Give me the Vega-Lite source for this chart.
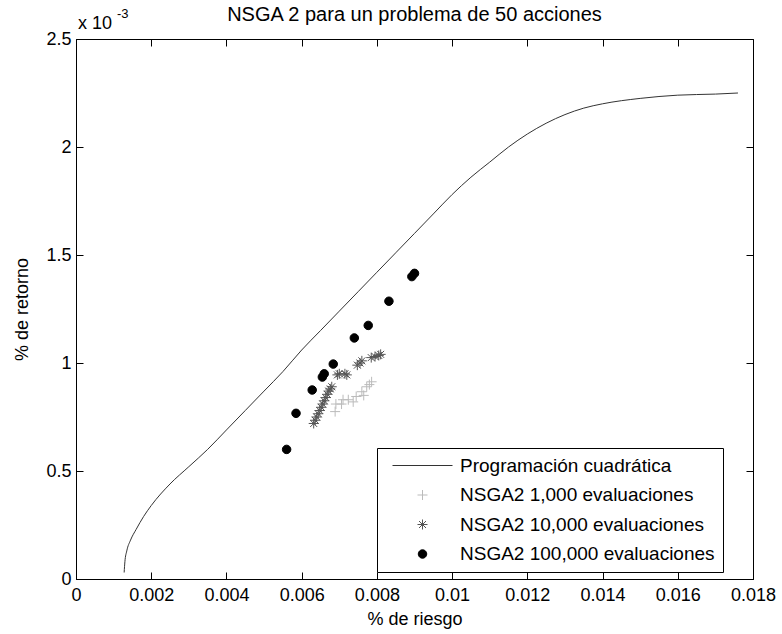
{
  "$schema": "https://vega.github.io/schema/vega-lite/v6.json",
  "width": 677,
  "height": 540,
  "autosize": {"type": "none"},
  "padding": {"left": 76, "top": 39, "right": 29, "bottom": 55},
  "background": "white",
  "config": {
    "view": {"stroke": "black", "strokeWidth": 1},
    "axis": {"grid": false, "domainColor": "black", "tickColor": "black", "labelColor": "black", "titleColor": "black", "labelFont": "Liberation Sans", "titleFont": "Liberation Sans", "labelFontSize": 18, "titleFontSize": 18, "titleFontWeight": "normal", "tickSize": -7, "labelFlush": false, "labelOverlap": false}
  },
  "datasets": {
    "qp": [
      {"x": 0.00128, "y": 0.03},
      {"x": 0.0013, "y": 0.08},
      {"x": 0.00135, "y": 0.13},
      {"x": 0.00145, "y": 0.18},
      {"x": 0.0016, "y": 0.23},
      {"x": 0.0018, "y": 0.29},
      {"x": 0.002, "y": 0.34},
      {"x": 0.0025, "y": 0.44},
      {"x": 0.003, "y": 0.52},
      {"x": 0.0035, "y": 0.6},
      {"x": 0.004, "y": 0.69},
      {"x": 0.0045, "y": 0.78},
      {"x": 0.005, "y": 0.87},
      {"x": 0.0055, "y": 0.96},
      {"x": 0.006, "y": 1.06},
      {"x": 0.0065, "y": 1.15},
      {"x": 0.007, "y": 1.24},
      {"x": 0.0075, "y": 1.33},
      {"x": 0.008, "y": 1.42},
      {"x": 0.0085, "y": 1.51},
      {"x": 0.009, "y": 1.6},
      {"x": 0.0095, "y": 1.69},
      {"x": 0.01, "y": 1.78},
      {"x": 0.0105, "y": 1.86},
      {"x": 0.011, "y": 1.93},
      {"x": 0.0115, "y": 2.0},
      {"x": 0.012, "y": 2.06},
      {"x": 0.0125, "y": 2.11},
      {"x": 0.013, "y": 2.15},
      {"x": 0.0135, "y": 2.18},
      {"x": 0.014, "y": 2.2},
      {"x": 0.015, "y": 2.225},
      {"x": 0.016, "y": 2.24},
      {"x": 0.017, "y": 2.245},
      {"x": 0.0176, "y": 2.25}
    ],
    "pts": [
      {"x": 0.00689, "y": 0.775, "s": "NSGA2 1,000 evaluaciones"},
      {"x": 0.00691, "y": 0.81, "s": "NSGA2 1,000 evaluaciones"},
      {"x": 0.00706, "y": 0.81, "s": "NSGA2 1,000 evaluaciones"},
      {"x": 0.0071, "y": 0.83, "s": "NSGA2 1,000 evaluaciones"},
      {"x": 0.00724, "y": 0.83, "s": "NSGA2 1,000 evaluaciones"},
      {"x": 0.00737, "y": 0.82, "s": "NSGA2 1,000 evaluaciones"},
      {"x": 0.00745, "y": 0.845, "s": "NSGA2 1,000 evaluaciones"},
      {"x": 0.0076, "y": 0.867, "s": "NSGA2 1,000 evaluaciones"},
      {"x": 0.00765, "y": 0.85, "s": "NSGA2 1,000 evaluaciones"},
      {"x": 0.00773, "y": 0.89, "s": "NSGA2 1,000 evaluaciones"},
      {"x": 0.0078, "y": 0.9, "s": "NSGA2 1,000 evaluaciones"},
      {"x": 0.00786, "y": 0.913, "s": "NSGA2 1,000 evaluaciones"},
      {"x": 0.00632, "y": 0.72, "s": "NSGA2 10,000 evaluaciones"},
      {"x": 0.00636, "y": 0.735, "s": "NSGA2 10,000 evaluaciones"},
      {"x": 0.0064, "y": 0.75, "s": "NSGA2 10,000 evaluaciones"},
      {"x": 0.00644, "y": 0.765, "s": "NSGA2 10,000 evaluaciones"},
      {"x": 0.00648, "y": 0.78, "s": "NSGA2 10,000 evaluaciones"},
      {"x": 0.00652, "y": 0.795, "s": "NSGA2 10,000 evaluaciones"},
      {"x": 0.00656, "y": 0.81, "s": "NSGA2 10,000 evaluaciones"},
      {"x": 0.0066, "y": 0.825, "s": "NSGA2 10,000 evaluaciones"},
      {"x": 0.00664, "y": 0.84, "s": "NSGA2 10,000 evaluaciones"},
      {"x": 0.00668, "y": 0.855, "s": "NSGA2 10,000 evaluaciones"},
      {"x": 0.00672, "y": 0.87, "s": "NSGA2 10,000 evaluaciones"},
      {"x": 0.00676, "y": 0.88, "s": "NSGA2 10,000 evaluaciones"},
      {"x": 0.0068, "y": 0.89, "s": "NSGA2 10,000 evaluaciones"},
      {"x": 0.00695, "y": 0.945, "s": "NSGA2 10,000 evaluaciones"},
      {"x": 0.007, "y": 0.95, "s": "NSGA2 10,000 evaluaciones"},
      {"x": 0.00715, "y": 0.95, "s": "NSGA2 10,000 evaluaciones"},
      {"x": 0.0072, "y": 0.945, "s": "NSGA2 10,000 evaluaciones"},
      {"x": 0.00748, "y": 0.99, "s": "NSGA2 10,000 evaluaciones"},
      {"x": 0.00755, "y": 1.0, "s": "NSGA2 10,000 evaluaciones"},
      {"x": 0.0076, "y": 1.01, "s": "NSGA2 10,000 evaluaciones"},
      {"x": 0.00785, "y": 1.025, "s": "NSGA2 10,000 evaluaciones"},
      {"x": 0.00795, "y": 1.03, "s": "NSGA2 10,000 evaluaciones"},
      {"x": 0.00805, "y": 1.035, "s": "NSGA2 10,000 evaluaciones"},
      {"x": 0.0081, "y": 1.04, "s": "NSGA2 10,000 evaluaciones"},
      {"x": 0.0056, "y": 0.6, "s": "NSGA2 100,000 evaluaciones"},
      {"x": 0.00585, "y": 0.767, "s": "NSGA2 100,000 evaluaciones"},
      {"x": 0.00628, "y": 0.875, "s": "NSGA2 100,000 evaluaciones"},
      {"x": 0.00655, "y": 0.935, "s": "NSGA2 100,000 evaluaciones"},
      {"x": 0.0066, "y": 0.95, "s": "NSGA2 100,000 evaluaciones"},
      {"x": 0.00684, "y": 0.995, "s": "NSGA2 100,000 evaluaciones"},
      {"x": 0.0074, "y": 1.116, "s": "NSGA2 100,000 evaluaciones"},
      {"x": 0.00777, "y": 1.174, "s": "NSGA2 100,000 evaluaciones"},
      {"x": 0.00832, "y": 1.286, "s": "NSGA2 100,000 evaluaciones"},
      {"x": 0.00893, "y": 1.4, "s": "NSGA2 100,000 evaluaciones"},
      {"x": 0.009, "y": 1.415, "s": "NSGA2 100,000 evaluaciones"}
    ]
  },
  "layer": [
    {
      "data": {"name": "qp"},
      "mark": {"type": "line", "strokeWidth": 1, "interpolate": "monotone", "color": "#333333"},
      "encoding": {
        "x": {"field": "x", "type": "quantitative", "scale": {"domain": [0, 0.018], "nice": false, "zero": false}, "axis": {"orient": "bottom", "title": "% de riesgo", "values": [0, 0.002, 0.004, 0.006, 0.008, 0.01, 0.012, 0.014, 0.016, 0.018], "format": "~g", "labelPadding": 14, "titlePadding": 6}},
        "y": {"field": "y", "type": "quantitative", "scale": {"domain": [0, 2.5], "nice": false, "zero": false}, "axis": {"orient": "left", "title": "% de retorno", "values": [0, 0.5, 1, 1.5, 2, 2.5], "format": "~g", "labelPadding": 12, "titlePadding": 14}}
      }
    },
    {
      "data": {"name": "pts"},
      "mark": {"type": "point", "size": 100, "strokeWidth": 1, "opacity": 1},
      "encoding": {
        "x": {"field": "x", "type": "quantitative", "axis": {"orient": "top", "labels": false, "title": null, "domain": false, "values": [0, 0.002, 0.004, 0.006, 0.008, 0.01, 0.012, 0.014, 0.016, 0.018]}},
        "y": {"field": "y", "type": "quantitative", "axis": {"orient": "right", "labels": false, "title": null, "domain": false, "values": [0, 0.5, 1, 1.5, 2, 2.5]}},
        "stroke": {"field": "s", "type": "nominal", "scale": {"domain": ["Programación cuadrática", "NSGA2 1,000 evaluaciones", "NSGA2 10,000 evaluaciones", "NSGA2 100,000 evaluaciones"], "range": ["#333333", "#bbbbbb", "#555555", "#000000"]}, "legend": {"title": null, "orient": "none", "legendX": 301, "legendY": 409, "strokeColor": "black", "fillColor": "white", "padding": 8, "labelFont": "Liberation Sans", "labelFontSize": 19, "labelColor": "black", "labelLimit": 500, "rowPadding": 9.5, "symbolOffset": 28, "labelOffset": 28, "symbolStrokeWidth": 1, "symbolSize": 100}},
        "fill": {"field": "s", "type": "nominal", "scale": {"domain": ["Programación cuadrática", "NSGA2 1,000 evaluaciones", "NSGA2 10,000 evaluaciones", "NSGA2 100,000 evaluaciones"], "range": ["transparent", "transparent", "transparent", "#000000"]}, "legend": {"title": null, "orient": "none", "legendX": 301, "legendY": 409, "strokeColor": "black", "fillColor": "white", "padding": 8, "labelFont": "Liberation Sans", "labelFontSize": 19, "labelColor": "black", "labelLimit": 500, "rowPadding": 9.5, "symbolOffset": 28, "labelOffset": 28, "symbolStrokeWidth": 1, "symbolSize": 100}},
        "shape": {"field": "s", "type": "nominal", "scale": {"domain": ["Programación cuadrática", "NSGA2 1,000 evaluaciones", "NSGA2 10,000 evaluaciones", "NSGA2 100,000 evaluaciones"], "range": ["M-6,0L6,0", "M-1,0L1,0M0,-1L0,1", "M-1,0L1,0M0,-1L0,1M-0.7,-0.7L0.7,0.7M-0.7,0.7L0.7,-0.7", "M0.85,0A0.85,0.85,0,1,1,-0.85,0A0.85,0.85,0,1,1,0.85,0Z"]}, "legend": {"title": null, "orient": "none", "legendX": 301, "legendY": 409, "strokeColor": "black", "fillColor": "white", "padding": 8, "labelFont": "Liberation Sans", "labelFontSize": 19, "labelColor": "black", "labelLimit": 500, "rowPadding": 9.5, "symbolOffset": 28, "labelOffset": 28, "symbolStrokeWidth": 1, "symbolSize": 100}}
      }
    },
    {
      "data": {"values": [{"x": 0.009, "y": 2.5, "t": "NSGA 2 para un problema de 50 acciones"}]},
      "mark": {"type": "text", "align": "center", "baseline": "alphabetic", "dy": -18, "font": "Liberation Sans", "fontSize": 20, "color": "black"},
      "encoding": {
        "x": {"field": "x", "type": "quantitative", "axis": null},
        "y": {"field": "y", "type": "quantitative", "axis": null},
        "text": {"field": "t"}
      }
    },
    {
      "data": {"values": [{"x": 0, "y": 2.5, "t": "x 10"}]},
      "mark": {"type": "text", "align": "left", "baseline": "alphabetic", "dx": 2, "dy": -10, "font": "Liberation Sans", "fontSize": 18, "color": "black"},
      "encoding": {
        "x": {"field": "x", "type": "quantitative", "axis": null},
        "y": {"field": "y", "type": "quantitative", "axis": null},
        "text": {"field": "t"}
      }
    },
    {
      "data": {"values": [{"x": 0, "y": 2.5, "t": "-3"}]},
      "mark": {"type": "text", "align": "left", "baseline": "alphabetic", "dx": 41, "dy": -21, "font": "Liberation Sans", "fontSize": 13, "color": "black"},
      "encoding": {
        "x": {"field": "x", "type": "quantitative", "axis": null},
        "y": {"field": "y", "type": "quantitative", "axis": null},
        "text": {"field": "t"}
      }
    }
  ],
  "resolve": {"axis": {"x": "independent", "y": "independent"}}
}
